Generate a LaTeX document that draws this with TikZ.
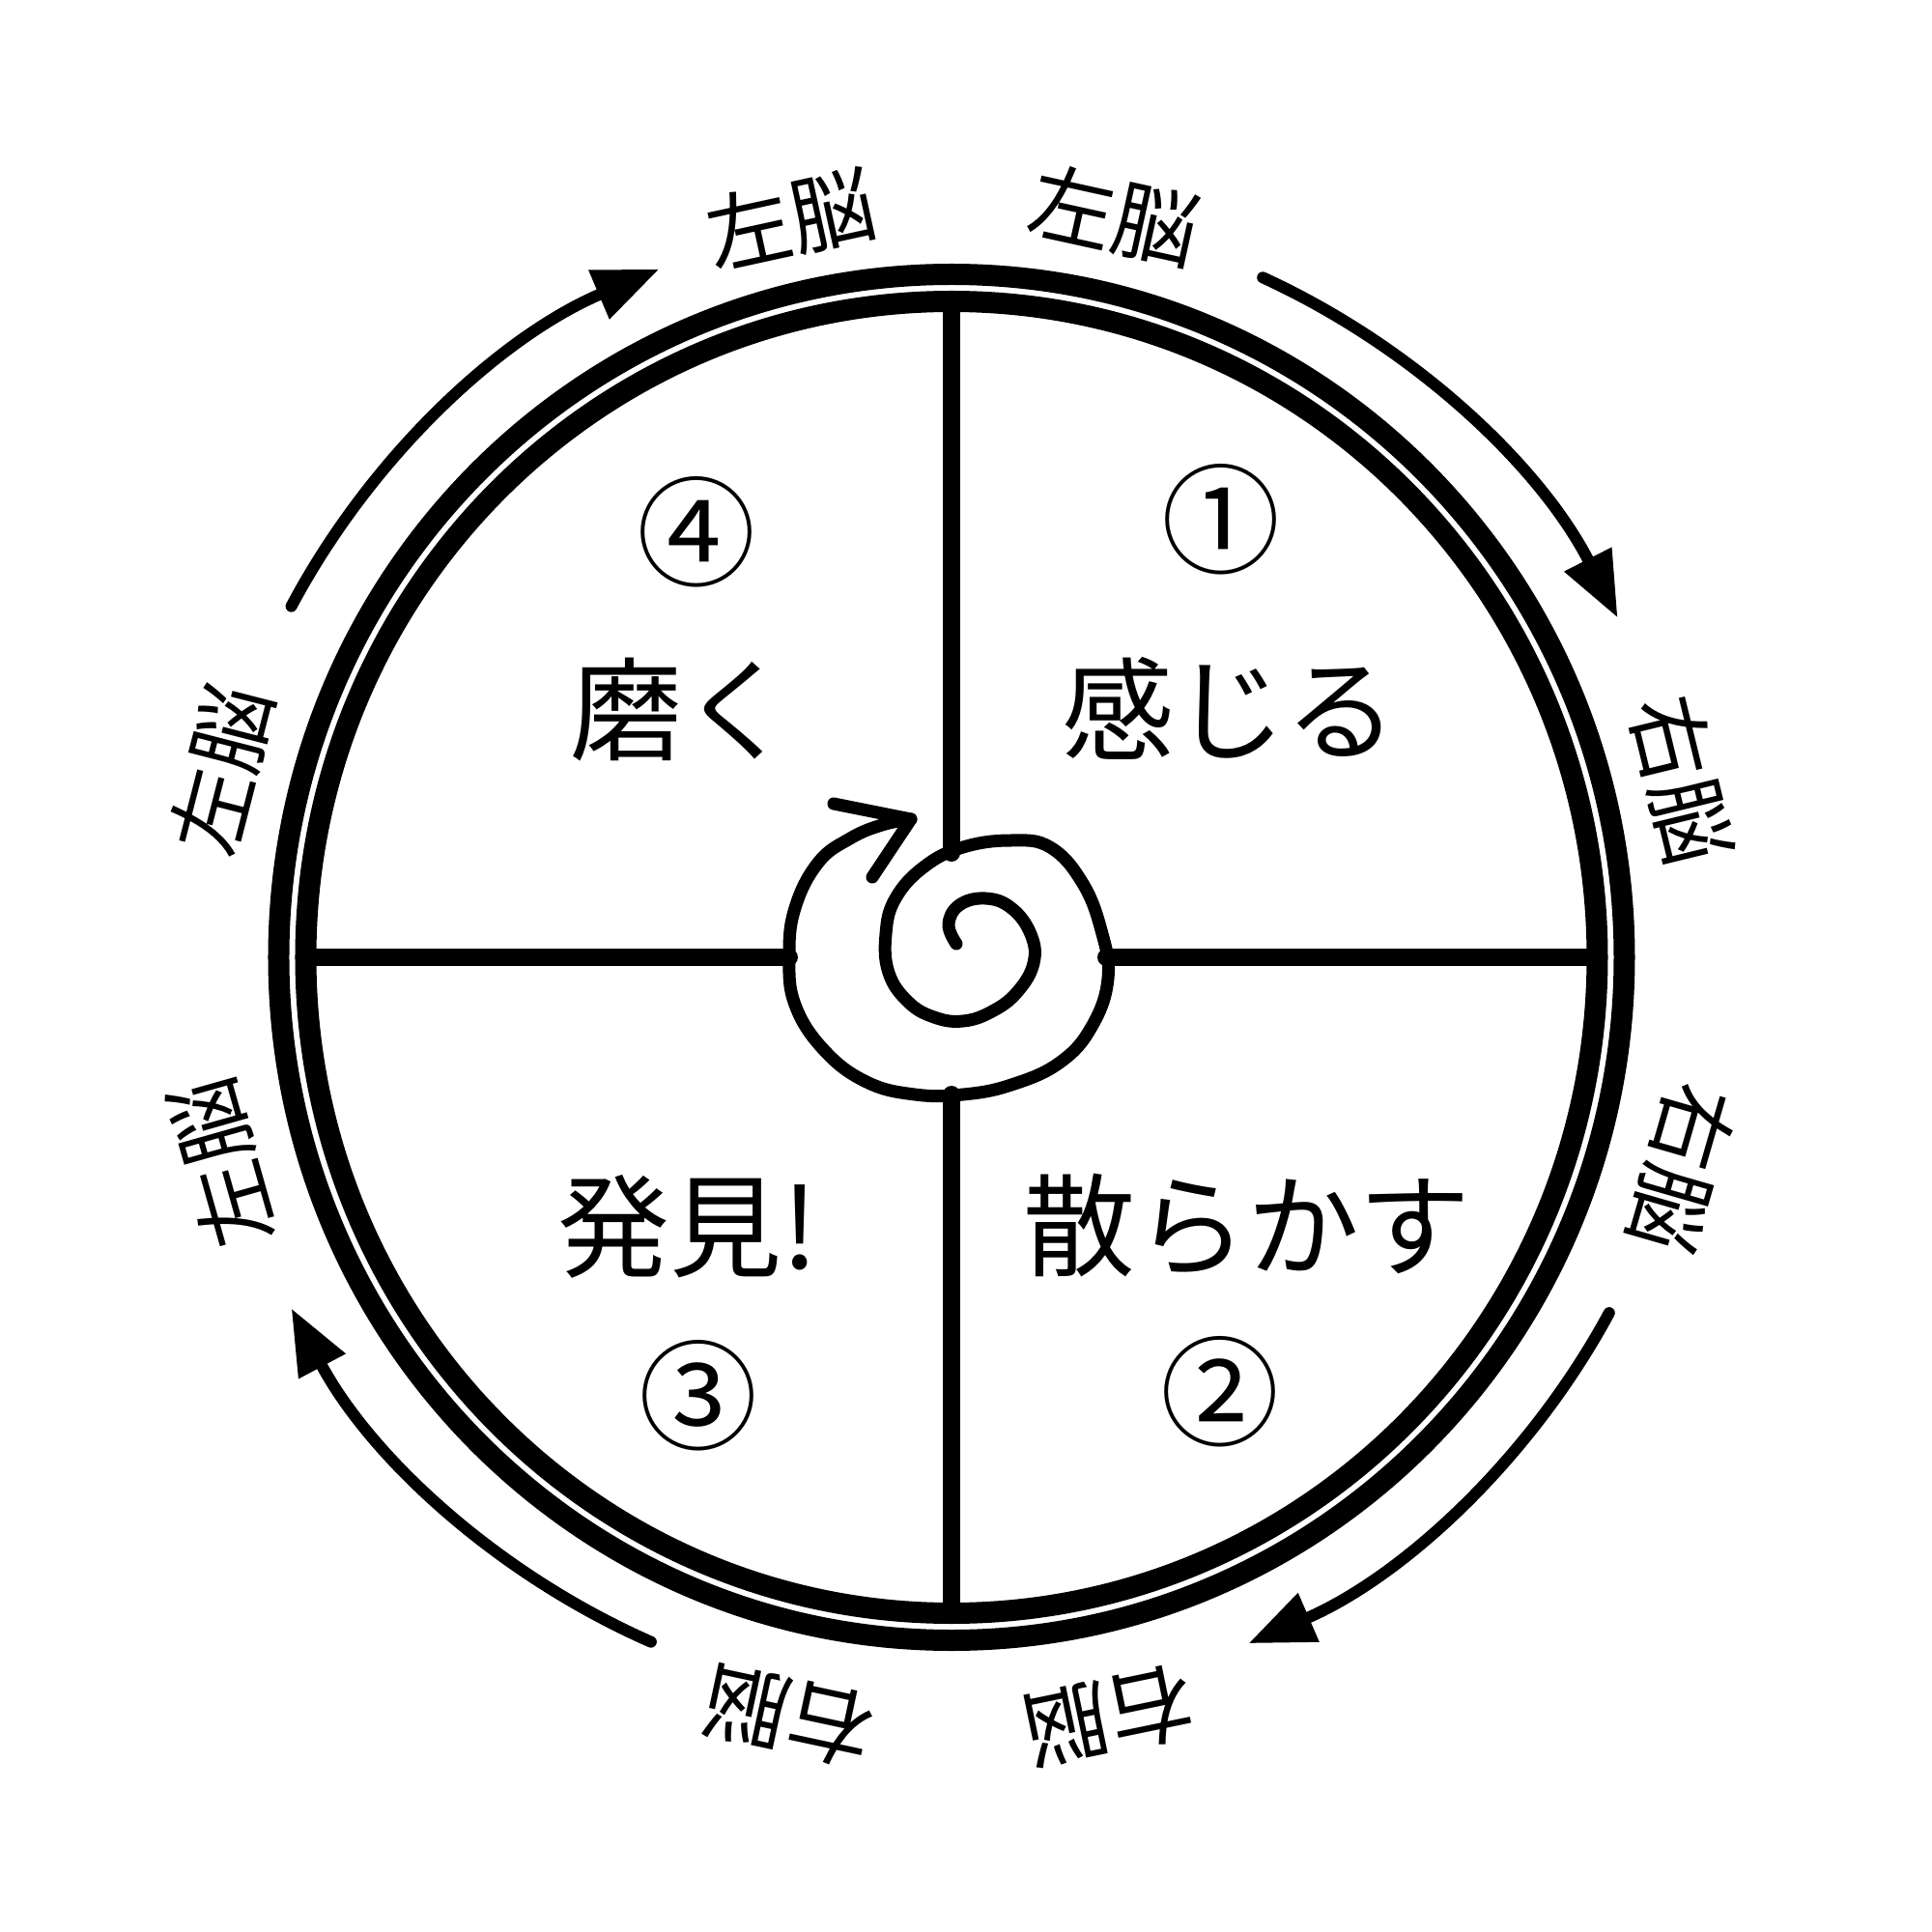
\documentclass[tikz,border=0pt]{standalone}
\usepackage{fontspec}
\setmainfont{Noto Sans CJK JP}
\usetikzlibrary{arrows.meta}

\begin{document}
\begin{tikzpicture}[line cap=round,
	ring/.style={line width=0.22cm},
	divider/.style={line width=0.18cm},
	spiral/.style={line width=0.13cm, line join=round},
	turn/.style={line width=0.12cm, -{Triangle[length=0.68cm,width=0.52cm]}},
	stage/.style={font=\fontsize{33}{40}\selectfont},
	stepno/.style={font=\fontsize{35}{42}\selectfont},
	brain/.style={font=\fontsize{25}{30}\selectfont}]
	\useasboundingbox (-9.85,-10.09) rectangle (10.15,9.91);
	\coordinate (O) at (0,0);
	\draw[ring] (O) ellipse [x radius=6.965, y radius=7.07];
	\draw[ring] (O) ellipse [x radius=6.685, y radius=6.79];
	\coordinate (N) at (0,6.7);
	\coordinate (S) at (0,-6.7);
	\coordinate (W) at (-6.6,0);
	\coordinate (E) at (6.6,0);
	\coordinate (sN) at (0,1.08);
	\coordinate (sS) at (0,-1.42);
	\coordinate (sW) at (-1.68,0);
	\coordinate (sE) at (1.60,0);
	\draw[divider] (N) -- (sN);
	\draw[divider] (sS) -- (S);
	\draw[divider] (W) -- (sW);
	\draw[divider] (sE) -- (E);
	\coordinate (tip) at (-0.42,1.43);
	\draw[spiral] plot[smooth, tension=0.7] coordinates {(tip) (-0.72,1.37) (-1.05,1.23) (-1.38,0.98) (-1.62,0.51) (-1.68,0.01) (-1.62,-0.49) (-1.32,-0.96) (-0.88,-1.29) (-0.38,-1.42) (0.12,-1.42) (0.62,-1.32) (1.12,-1.09) (1.45,-0.72) (1.62,-0.22) (1.55,0.28) (1.35,0.78) (1.02,1.14) (0.62,1.21) (0.12,1.14) (-0.28,0.94) (-0.58,0.61) (-0.68,0.24) (-0.65,-0.16) (-0.45,-0.46) (-0.18,-0.62) (0.12,-0.66) (0.42,-0.56) (0.68,-0.36) (0.85,-0.06) (0.82,0.24) (0.62,0.51) (0.35,0.61) (0.08,0.54) (-0.03,0.34) (0.05,0.14)};
	\draw[spiral] (-1.22,1.59) -- (tip) -- (-0.82,0.83);
	\node[stepno] (n1) at (2.79,4.53) {①};
	\node[stage] (t1) at (2.88,2.58) {感じる};
	\node[stepno] (n2) at (2.78,-4.50) {②};
	\node[stage] (t2) at (3.06,-2.78) {散らかす};
	\node[stepno] (n3) at (-2.62,-4.54) {③};
	\node[stage] (t3) at (-2.73,-2.79) {発見!};
	\node[stepno] (n4) at (-2.64,4.40) {④};
	\node[stage] (t4) at (-2.79,2.56) {磨く};
	\node[brain, rotate=12.3] (b1) at (102.3:7.82) {左脳};
	\node[brain, rotate=-12.4] (b2) at (77.6:7.86) {左脳};
	\node[brain, rotate=-76.3] (b3) at (13.7:7.78) {右脳};
	\node[brain, rotate=-106.1] (b4) at (-16.1:7.87) {右脳};
	\node[brain, rotate=-168.3] (b5) at (-78.3:8.03) {右脳};
	\node[brain, rotate=-192.1] (b6) at (-102.1:8.04) {右脳};
	\node[brain, rotate=105.8] (b7) at (195.8:7.85) {左脳};
	\node[brain, rotate=75.6] (b8) at (165.6:7.80) {左脳};
	\coordinate (a1) at (152:7.74);
	\coordinate (a2) at (65.4:7.74);
	\coordinate (a3) at (-28.4:7.74);
	\coordinate (a4) at (-113.7:7.74);
	\draw[turn] (a1) arc[start angle=152, end angle=113, radius=7.74];
	\draw[turn] (a2) arc[start angle=65.4, end angle=27, radius=7.74];
	\draw[turn] (a3) arc[start angle=-28.4, end angle=-66.6, radius=7.74];
	\draw[turn] (a4) arc[start angle=-113.7, end angle=-152, radius=7.74];
\end{tikzpicture}
\end{document}
